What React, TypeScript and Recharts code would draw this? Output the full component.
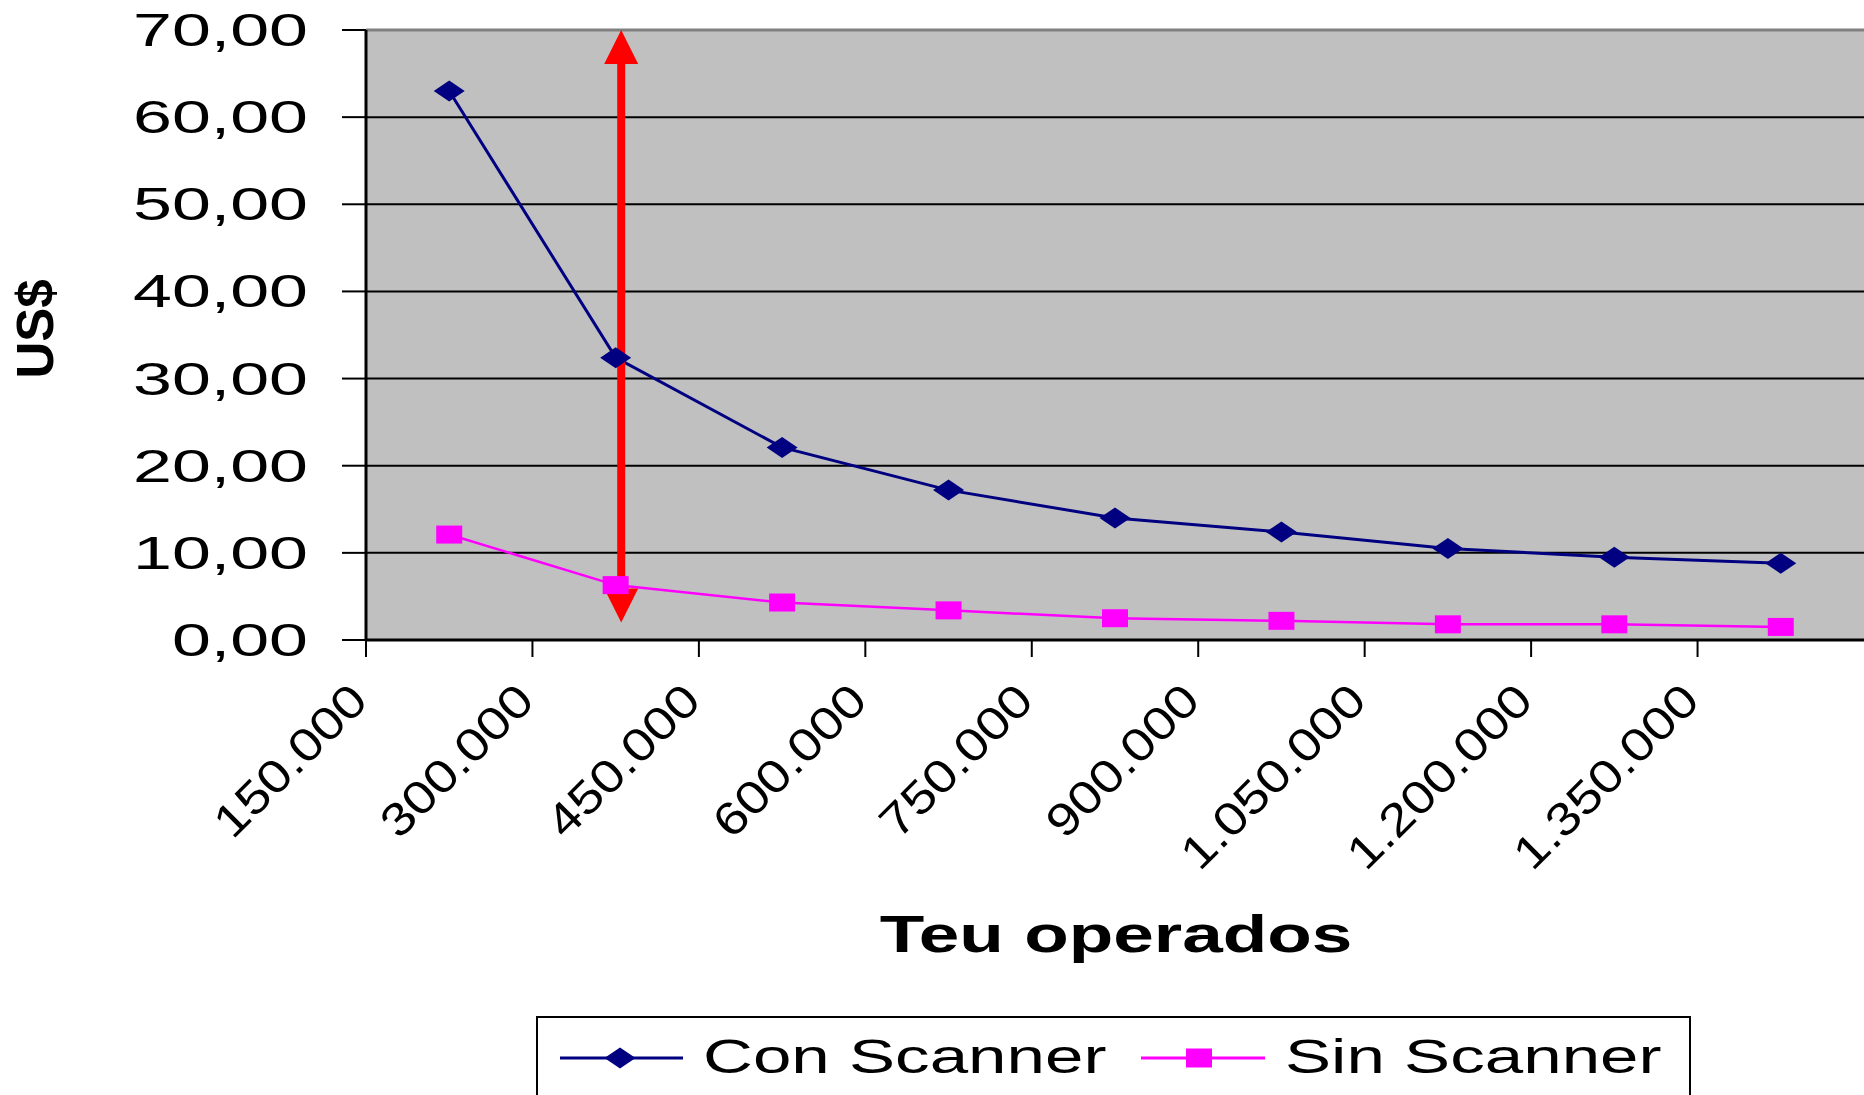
import { LineChart, Line, XAxis, YAxis, CartesianGrid, ReferenceLine } from "recharts"

const teu = [225000, 375000, 525000, 675000, 825000, 975000, 1125000, 1275000, 1425000]
const conScanner = [63.0, 32.4, 22.1, 17.2, 14.0, 12.4, 10.5, 9.5, 8.8]
const sinScanner = [12.1, 6.3, 4.3, 3.4, 2.5, 2.2, 1.8, 1.8, 1.5]
const xTicks = [150000, 300000, 450000, 600000, 750000, 900000, 1050000, 1200000, 1350000]
const yTicks = [0, 10, 20, 30, 40, 50, 60, 70]
// red double arrow marking the gap at ~380.000 TEU
const arrowX = 380000
const arrowFrom = 2
const arrowTo = 70

const data = teu.map((t, i) => ({ teu: t, con: conScanner[i], sin: sinScanner[i] }))

const FONT = '"Liberation Sans", Arial, sans-serif'
const NAVY = "#000080"
const MAGENTA = "#FF00FF"

const fmtX = (v: number) => String(v).replace(/\B(?=(\d{3})+(?!\d))/g, ".")
const fmtY = (v: number) => v.toFixed(2).replace(".", ",")

function YTick({ x, y, payload }: any) {
  return (
    <g transform={`translate(${x},${y})`}>
      <text transform="scale(1.52,1)" textAnchor="end" dy={16} fontSize={46} fontFamily={FONT} fill="#000">
        {fmtY(payload.value)}
      </text>
    </g>
  )
}

function XTick({ x, y, payload }: any) {
  return (
    <g transform={`translate(${x + 4},${y + 46}) rotate(-45)`}>
      <text transform="scale(1.17,1)" textAnchor="end" fontSize={46} fontFamily={FONT} fill="#000">
        {fmtX(payload.value)}
      </text>
    </g>
  )
}

function YTitle() {
  return (
    <text transform="translate(53,329) rotate(-90)" textAnchor="middle" fontSize={51} fontWeight="bold" fontFamily={FONT} fill="#000">
      US$
    </text>
  )
}

function XTitle() {
  return (
    <g transform="translate(1116,952)">
      <text transform="scale(1.43,1)" textAnchor="middle" fontSize={51} fontWeight="bold" fontFamily={FONT} fill="#000">
        Teu operados
      </text>
    </g>
  )
}

const diamond = (cx: number, cy: number) => `M${cx - 15.5},${cy} L${cx},${cy - 10.5} L${cx + 15.5},${cy} L${cx},${cy + 10.5} Z`

function Arrow(props: any) {
  const { x1, y1, y2 } = props
  const top = Math.min(y1, y2)
  const bot = Math.max(y1, y2)
  const head = 34
  const half = 17
  return (
    <g>
      <line x1={x1} x2={x1} y1={top + head - 2} y2={bot - head + 2} stroke="#FF0000" strokeWidth={8} />
      <polygon points={`${x1},${top} ${x1 - half},${top + head} ${x1 + half},${top + head}`} fill="#FF0000" />
      <polygon points={`${x1},${bot} ${x1 - half},${bot - head} ${x1 + half},${bot - head}`} fill="#FF0000" />
    </g>
  )
}

function LegendBox() {
  return (
    <svg width={1864} height={1095} style={{ position: "absolute", left: 0, top: 0, pointerEvents: "none" }}>
      <rect x={537} y={1017} width={1153} height={84} fill="#fff" stroke="#000" strokeWidth={2} />
      <line x1={560} x2={683} y1={1058} y2={1058} stroke={NAVY} strokeWidth={3} />
      <path d={diamond(620, 1058)} fill={NAVY} />
      <g transform="translate(703,1073)">
        <text transform="scale(1.44,1)" fontSize={48} fontFamily={FONT} fill="#000">Con Scanner</text>
      </g>
      <line x1={1141} x2={1265} y1={1058} y2={1058} stroke={MAGENTA} strokeWidth={3} />
      <rect x={1186} y={1048.5} width={26} height={19} fill={MAGENTA} />
      <g transform="translate(1285,1073)">
        <text transform="scale(1.44,1)" fontSize={48} fontFamily={FONT} fill="#000">Sin Scanner</text>
      </g>
    </svg>
  )
}

export default function App() {
  return (
    <div style={{ position: "absolute", left: 0, top: 0, width: 1864, height: 1095, overflow: "hidden", background: "#fff" }}>
      <LineChart width={1864} height={1095} data={data} margin={{ top: 30, right: 0, left: 0, bottom: 95 }}>
        <CartesianGrid vertical={false} stroke="#000" strokeWidth={2} fill="#C0C0C0" fillOpacity={1} />
        <XAxis
          dataKey="teu"
          type="number"
          domain={[150000, 1500000]}
          ticks={xTicks}
          interval={0}
          height={360}
          tickSize={17}
          tickMargin={0}
          tick={<XTick />}
          tickLine={{ stroke: "#000", strokeWidth: 2 }}
          axisLine={{ stroke: "#000", strokeWidth: 3 }}
          label={<XTitle />}
        />
        <YAxis
          type="number"
          domain={[0, 70]}
          ticks={yTicks}
          interval={0}
          width={366}
          tickSize={24}
          tickMargin={34}
          tick={<YTick />}
          tickLine={{ stroke: "#000", strokeWidth: 2 }}
          axisLine={{ stroke: "#000", strokeWidth: 3 }}
          label={<YTitle />}
        />
        <ReferenceLine y={70} stroke="#808080" strokeWidth={3} />
        <Line
          type="linear"
          dataKey="con"
          stroke={NAVY}
          strokeWidth={3}
          isAnimationActive={false}
          dot={(p: any) => <path key={`c${p.index}`} d={diamond(p.cx, p.cy)} fill={NAVY} />}
        />
        <Line
          type="linear"
          dataKey="sin"
          stroke={MAGENTA}
          strokeWidth={2.5}
          isAnimationActive={false}
          dot={(p: any) => <rect key={`s${p.index}`} x={p.cx - 13} y={p.cy - 9} width={26} height={18} fill={MAGENTA} />}
        />
        <ReferenceLine
          segment={[{ x: arrowX, y: arrowFrom }, { x: arrowX, y: arrowTo }]}
          shape={<Arrow />}
        />
      </LineChart>
      <LegendBox />
    </div>
  )
}
